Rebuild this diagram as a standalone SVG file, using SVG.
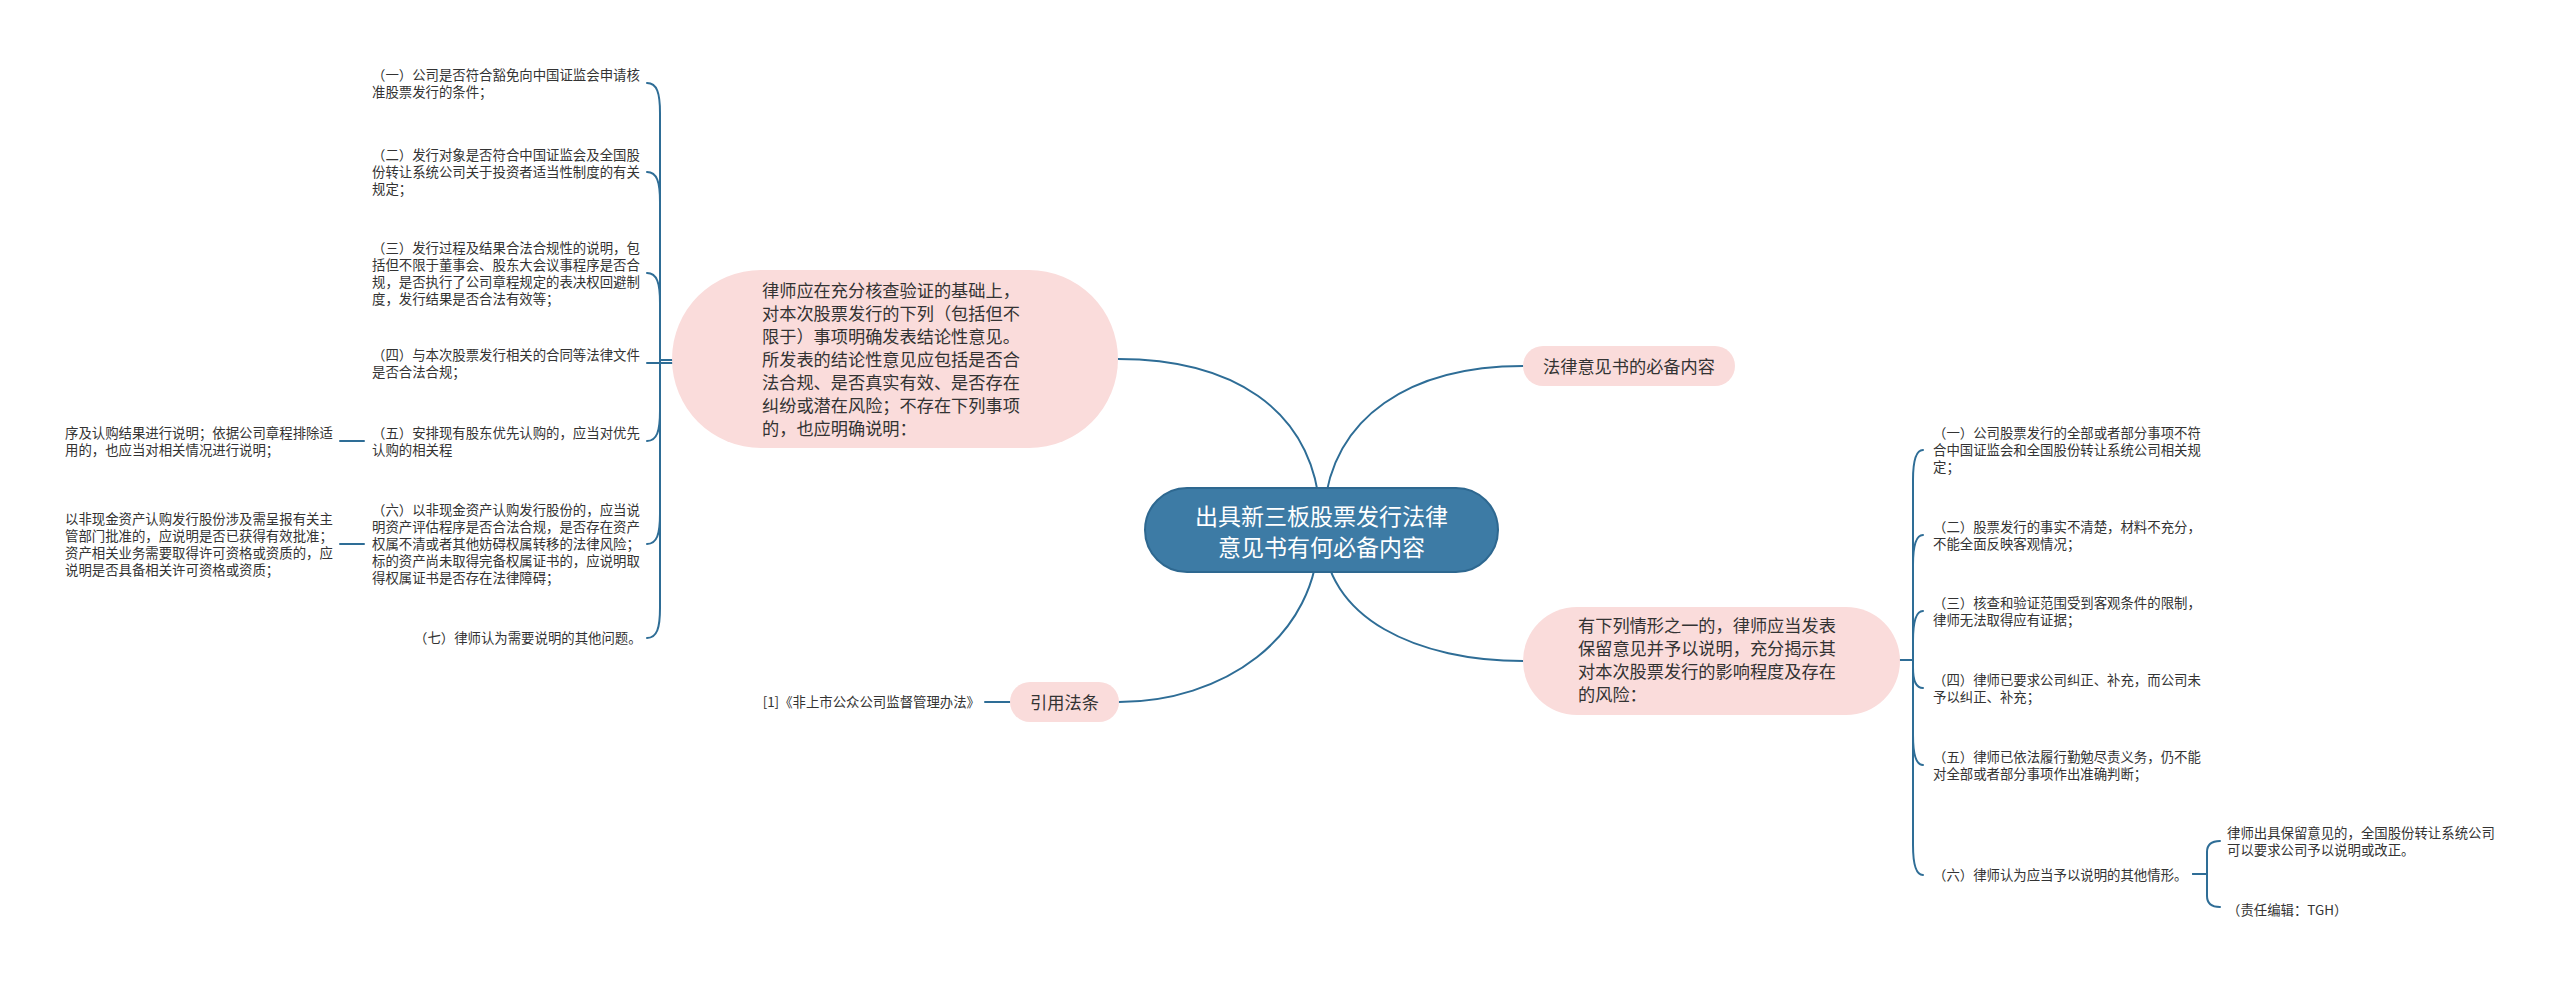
<svg xmlns="http://www.w3.org/2000/svg" width="2560" height="981" viewBox="0 0 2560 981">
<style>
.bg{fill:#ffffff}
.c{fill:none;stroke:#2e6d96;stroke-width:2;stroke-linecap:round}
.pink{fill:#fadcdb}
.main{fill:#3d7ba5;stroke:#2e6890;stroke-width:2}
.t{font-family:"Noto Sans CJK SC","Noto Sans",sans-serif;fill:#333333}
.leaf{font-size:13.4px}
.mid{font-size:17.2px}
.ctr{font-size:23px;fill:#ffffff}
</style>
<rect class="bg" x="0" y="0" width="2560" height="981"/>
<g id="connectors">
  <path class="c" d="M1321 530 C1321 400 1220 359 1118 359"/>
  <path class="c" d="M1323 530 C1323 410 1420 366 1523 366"/>
  <path class="c" d="M1323 530 C1323 620 1420 661 1523 661"/>
  <path class="c" d="M1319 530 C1319 640 1220 702 1119 702"/>
  <!-- left bracket -->
  <path class="c" d="M672 360 L660 360 L660 113 C660 93 657 83 647 83"/>
  <path class="c" d="M672 360 L660 360 L660 202 C660 182 657 172 647 172"/>
  <path class="c" d="M672 360 L660 360 L660 303 C660 283 657 273 647 273"/>
  <path class="c" d="M672 363 L647 363"/>
  <path class="c" d="M672 360 L660 360 L660 411 C660 431 657 441 647 441"/>
  <path class="c" d="M672 360 L660 360 L660 514 C660 534 657 544 647 544"/>
  <path class="c" d="M672 360 L660 360 L660 608 C660 628 657 638 647 638"/>
  <path class="c" d="M364 441 L340 441"/>
  <path class="c" d="M364 544 L340 544"/>
  <path class="c" d="M1010 702 L985 702"/>
  <!-- right bracket -->
  <path class="c" d="M1900 660 L1913 660 L1913 480 C1913 460 1916 450 1923 450"/>
  <path class="c" d="M1900 660 L1913 660 L1913 565 C1913 545 1916 535 1923 535"/>
  <path class="c" d="M1900 660 L1913 660 L1913 641 C1913 621 1916 611 1923 611"/>
  <path class="c" d="M1900 660 L1913 660 L1913 668 C1913 680 1916 688 1923 688"/>
  <path class="c" d="M1900 660 L1913 660 L1913 735 C1913 755 1916 765 1923 765"/>
  <path class="c" d="M1900 660 L1913 660 L1913 845 C1913 865 1916 875 1923 875"/>
  <path class="c" d="M2193 874 L2207 874 L2207 852 C2207 845 2211 841 2220 841"/>
  <path class="c" d="M2193 874 L2207 874 L2207 896 C2207 903 2211 907 2220 907"/>
</g>
<g id="n-center">
  <rect class="main" x="1145" y="488" width="353" height="84" rx="42"/>
  <text class="t ctr" x="1321.5" y="525" text-anchor="middle">出具新三板股票发行法律</text>
  <text class="t ctr" x="1321.5" y="556" text-anchor="middle">意见书有何必备内容</text>
</g>
<g id="n-left">
  <rect class="pink" x="672" y="270" width="446" height="178" rx="89"/>
  <text class="t mid" x="762"><tspan x="762" y="296.5">律师应在充分核查验证的基础上，</tspan><tspan x="762" y="319.5">对本次股票发行的下列（包括但不</tspan><tspan x="762" y="342.5">限于）事项明确发表结论性意见。</tspan><tspan x="762" y="365.5">所发表的结论性意见应包括是否合</tspan><tspan x="762" y="388.5">法合规、是否真实有效、是否存在</tspan><tspan x="762" y="411.5">纠纷或潜在风险；不存在下列事项</tspan><tspan x="762" y="434.5">的，也应明确说明：</tspan></text>
</g>
<g id="n-l1"><text class="t leaf"><tspan x="372" y="79.5">（一）公司是否符合豁免向中国证监会申请核</tspan><tspan x="372" y="96.5">准股票发行的条件；</tspan></text></g>
<g id="n-l2"><text class="t leaf"><tspan x="372" y="160">（二）发行对象是否符合中国证监会及全国股</tspan><tspan x="372" y="177">份转让系统公司关于投资者适当性制度的有关</tspan><tspan x="372" y="194">规定；</tspan></text></g>
<g id="n-l3"><text class="t leaf"><tspan x="372" y="252.5">（三）发行过程及结果合法合规性的说明，包</tspan><tspan x="372" y="269.5">括但不限于董事会、股东大会议事程序是否合</tspan><tspan x="372" y="286.5">规，是否执行了公司章程规定的表决权回避制</tspan><tspan x="372" y="303.5">度，发行结果是否合法有效等；</tspan></text></g>
<g id="n-l4"><text class="t leaf"><tspan x="372" y="359.5">（四）与本次股票发行相关的合同等法律文件</tspan><tspan x="372" y="376.5">是否合法合规；</tspan></text></g>
<g id="n-l5"><text class="t leaf"><tspan x="372" y="437.5">（五）安排现有股东优先认购的，应当对优先</tspan><tspan x="372" y="454.5">认购的相关程</tspan></text></g>
<g id="n-l5a"><text class="t leaf"><tspan x="65" y="437.5">序及认购结果进行说明；依据公司章程排除适</tspan><tspan x="65" y="454.5">用的，也应当对相关情况进行说明；</tspan></text></g>
<g id="n-l6"><text class="t leaf"><tspan x="372" y="515">（六）以非现金资产认购发行股份的，应当说</tspan><tspan x="372" y="532">明资产评估程序是否合法合规，是否存在资产</tspan><tspan x="372" y="549">权属不清或者其他妨碍权属转移的法律风险；</tspan><tspan x="372" y="566">标的资产尚未取得完备权属证书的，应说明取</tspan><tspan x="372" y="583">得权属证书是否存在法律障碍；</tspan></text></g>
<g id="n-l6a"><text class="t leaf"><tspan x="65" y="523.5">以非现金资产认购发行股份涉及需呈报有关主</tspan><tspan x="65" y="540.5">管部门批准的，应说明是否已获得有效批准；</tspan><tspan x="65" y="557.5">资产相关业务需要取得许可资格或资质的，应</tspan><tspan x="65" y="574.5">说明是否具备相关许可资格或资质；</tspan></text></g>
<g id="n-l7"><text class="t leaf" x="414" y="643">（七）律师认为需要说明的其他问题。</text></g>
<g id="n-top">
  <rect class="pink" x="1523" y="346" width="212" height="40" rx="20"/>
  <text class="t mid" x="1629" y="372.5" text-anchor="middle">法律意见书的必备内容</text>
</g>
<g id="n-right">
  <rect class="pink" x="1523" y="607" width="377" height="108" rx="54"/>
  <text class="t mid"><tspan x="1578" y="631.5">有下列情形之一的，律师应当发表</tspan><tspan x="1578" y="654.5">保留意见并予以说明，充分揭示其</tspan><tspan x="1578" y="677.5">对本次股票发行的影响程度及存在</tspan><tspan x="1578" y="700.5">的风险：</tspan></text>
</g>
<g id="n-r1"><text class="t leaf"><tspan x="1933" y="438">（一）公司股票发行的全部或者部分事项不符</tspan><tspan x="1933" y="455">合中国证监会和全国股份转让系统公司相关规</tspan><tspan x="1933" y="472">定；</tspan></text></g>
<g id="n-r2"><text class="t leaf"><tspan x="1933" y="531.5">（二）股票发行的事实不清楚，材料不充分，</tspan><tspan x="1933" y="548.5">不能全面反映客观情况；</tspan></text></g>
<g id="n-r3"><text class="t leaf"><tspan x="1933" y="607.5">（三）核查和验证范围受到客观条件的限制，</tspan><tspan x="1933" y="624.5">律师无法取得应有证据；</tspan></text></g>
<g id="n-r4"><text class="t leaf"><tspan x="1933" y="684.5">（四）律师已要求公司纠正、补充，而公司未</tspan><tspan x="1933" y="701.5">予以纠正、补充；</tspan></text></g>
<g id="n-r5"><text class="t leaf"><tspan x="1933" y="761.5">（五）律师已依法履行勤勉尽责义务，仍不能</tspan><tspan x="1933" y="778.5">对全部或者部分事项作出准确判断；</tspan></text></g>
<g id="n-r6"><text class="t leaf" x="1933" y="880">（六）律师认为应当予以说明的其他情形。</text></g>
<g id="n-r6a"><text class="t leaf"><tspan x="2227" y="838">律师出具保留意见的，全国股份转让系统公司</tspan><tspan x="2227" y="855">可以要求公司予以说明或改正。</tspan></text></g>
<g id="n-r6b"><text class="t leaf" x="2227" y="915">（责任编辑：TGH）</text></g>
<g id="n-cite">
  <rect class="pink" x="1010" y="682" width="109" height="40" rx="20"/>
  <text class="t mid" x="1064.5" y="708.5" text-anchor="middle">引用法条</text>
</g>
<g id="n-cite1"><text class="t leaf" x="980" y="707" text-anchor="end">[1]《非上市公众公司监督管理办法》</text></g>
</svg>
